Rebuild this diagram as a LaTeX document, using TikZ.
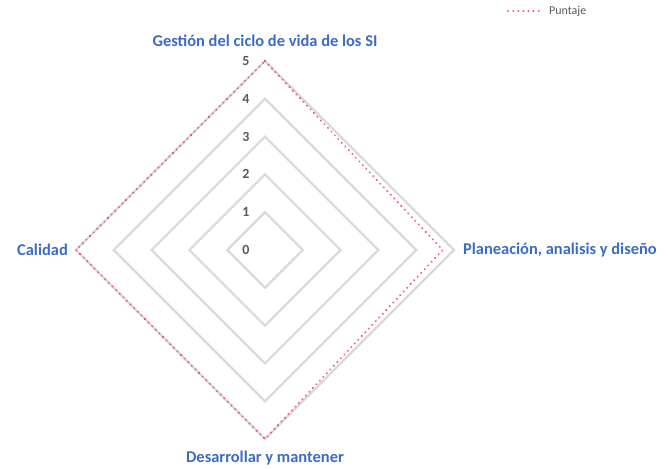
\documentclass[tikz,border=0pt]{standalone}
\usepackage{fontspec}
\setmainfont{Carlito}
\usetikzlibrary{calc}
\definecolor{gridgray}{RGB}{217,217,217}
\definecolor{catblue}{RGB}{58,107,201}
\definecolor{tickgray}{RGB}{89,89,89}
\definecolor{seriespink}{RGB}{240,80,160}
\definecolor{legendgray}{RGB}{89,89,89}
\begin{document}
\begin{tikzpicture}[x=1bp,y=-1bp,
  gridline/.style={draw=gridgray,line width=2.2bp,line join=miter},
  series/.style={draw=seriespink,line width=2.2bp,dash pattern=on 0.1bp off 5bp,line cap=round,line join=round},
  catlabel/.style={font=\fontsize{16.5}{19}\selectfont\bfseries,text=catblue,inner sep=0pt},
  ticklabel/.style={font=\fontsize{14}{16}\selectfont\bfseries,text=tickgray,inner sep=0pt},
  legendtext/.style={font=\fontsize{12}{14}\selectfont,text=legendgray,inner sep=0pt,anchor=west}]
\useasboundingbox (0,0) rectangle (669,469);
\coordinate (c) at (265,250);
\def\u{37.8}
% grid rings
\foreach \r in {1,...,5}{
  \draw[gridline] ($(c)+(0,-\r*\u)$) -- ($(c)+(\r*\u,0)$) -- ($(c)+(0,\r*\u)$) -- ($(c)+(-\r*\u,0)$) -- cycle;
}
% tick labels
\foreach \r in {0,...,5}{
  \node[ticklabel] (t\r) at ($(c)+(-19,-\r*\u)$) {\r};
}
% data
\coordinate (p1) at ($(c)+(0,-5*\u)$);
\coordinate (p2) at ($(c)+(4.7*\u,0)$);
\coordinate (p3) at ($(c)+(0,5*\u)$);
\coordinate (p4) at ($(c)+(-5*\u,0)$);
\draw[series] (p1) -- (p2) -- (p3) -- (p4) -- cycle;
% category labels
\node[catlabel] (l1) at (265,41) {Gestión del ciclo de vida de los SI};
\node[catlabel,anchor=west] (l2) at (463,250) {Planeación, analisis y diseño};
\node[catlabel] (l3) at (265,458) {Desarrollar y mantener};
\node[catlabel,anchor=east] (l4) at (68,250) {Calidad};
% legend
\coordinate (la) at (508,11);
\coordinate (lb) at (543,11);
\draw[series] (la) -- (lb);
\node[legendtext] (lt) at (549,11) {Puntaje};
\end{tikzpicture}
\end{document}
